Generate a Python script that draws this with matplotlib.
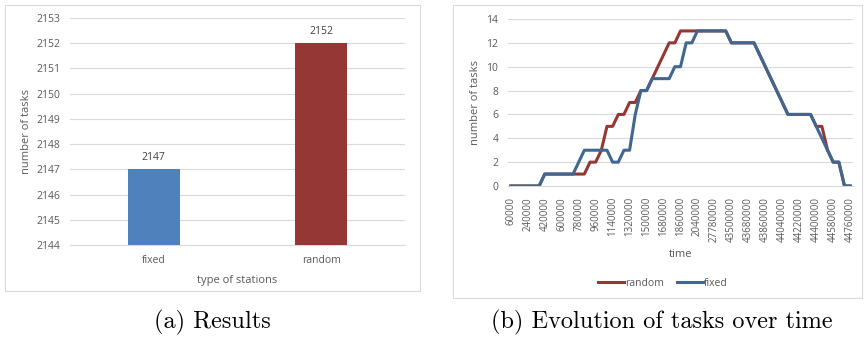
import matplotlib
matplotlib.use("Agg")
import matplotlib.pyplot as plt
from matplotlib.patches import Rectangle

plt.rcParams["font.family"] = ["Open Sans", "DejaVu Sans"]

# (a) results
station_types = ["fixed", "random"]
task_counts = [2147, 2152]
bar_colors = ["#4F81BD", "#953735"]

# (b) evolution of tasks over time
times = [
    60000, 120000, 180000, 240000, 300000, 360000, 420000, 480000, 540000,
    600000, 660000, 720000, 780000, 840000, 900000, 960000, 1020000, 1080000,
    1140000, 1200000, 1260000, 1320000, 1380000, 1440000, 1500000, 1560000,
    1620000, 1680000, 1740000, 1800000, 1860000, 1920000, 1980000, 2040000,
    2100000, 2160000, 27780000, 27840000, 43440000, 43500000, 43560000,
    43620000, 43680000, 43740000, 43800000, 43860000, 43920000, 43980000,
    44040000, 44100000, 44160000, 44220000, 44280000, 44340000, 44400000,
    44460000, 44520000, 44580000, 44640000, 44700000, 44760000,
]
random_tasks = [
    0, 0, 0, 0, 0, 0, 1, 1, 1, 1, 1, 1, 1, 1, 2, 2, 3, 5, 5, 6, 6, 7, 7, 8,
    8, 9, 10, 11, 12, 12, 13, 13, 13, 13, 13, 13, 13, 13, 13, 12, 12, 12, 12,
    12, 11, 10, 9, 8, 7, 6, 6, 6, 6, 6, 5, 5, 3, 2, 2, 0, 0,
]
fixed_tasks = [
    0, 0, 0, 0, 0, 0, 1, 1, 1, 1, 1, 1, 2, 3, 3, 3, 3, 3, 2, 2, 3, 3, 6, 8,
    8, 9, 9, 9, 9, 10, 10, 12, 12, 13, 13, 13, 13, 13, 13, 12, 12, 12, 12,
    12, 11, 10, 9, 8, 7, 6, 6, 6, 6, 6, 5, 4, 3, 2, 2, 0, 0,
]

W, H = 866, 341
fig = plt.figure(figsize=(W / 100, H / 100), dpi=100)


def box(x0, y0, x1, y1):
    # pixel box (top-left origin) -> figure fraction rect
    return [x0 / W, 1 - y1 / H, (x1 - x0) / W, (y1 - y0) / H]


# panel frames
for (x0, y0, x1, y1) in [(5, 5, 420, 291), (453, 5, 862, 298)]:
    fig.patches.append(Rectangle((x0 / W, 1 - y1 / H), (x1 - x0) / W,
                                 (y1 - y0) / H, transform=fig.transFigure,
                                 fill=False, edgecolor="#D9D9D9", lw=0.8))

tick_color = "#595959"
grid_color = "#D9D9D9"

# ---- left: bar chart
ax1 = fig.add_axes(box(70, 18, 405, 245))
pos = range(len(station_types))
ax1.bar(pos, [v - 2144 for v in task_counts], bottom=2144, width=0.31,
        color=bar_colors, zorder=3)
for p, v in zip(pos, task_counts):
    ax1.text(p, v + 0.25, str(v), ha="center", va="bottom", fontsize=7.5,
             color="#404040")
ax1.set_xlim(-0.5, 1.5)
ax1.set_ylim(2144, 2153)
ax1.set_yticks(range(2144, 2154))
ax1.set_xticks(list(pos))
ax1.set_xticklabels(station_types)
ax1.grid(axis="y", color=grid_color, lw=0.8, zorder=0)
for s in ["top", "right", "left"]:
    ax1.spines[s].set_visible(False)
ax1.spines["bottom"].set_color(grid_color)
ax1.tick_params(length=0, labelsize=7.5, colors=tick_color, pad=7)
ax1.set_ylabel("number of tasks", fontsize=8, color=tick_color, labelpad=3)
ax1.set_xlabel("type of stations", fontsize=8, color=tick_color, labelpad=7)

# ---- right: line chart
ax2 = fig.add_axes(box(508, 19, 853, 186))
idx = range(len(times))
ax2.plot(idx, random_tasks, color="#953735", lw=2.2, label="random",
         zorder=3)
ax2.plot(idx, fixed_tasks, color="#3F6791", lw=2.2, label="fixed", zorder=4)
ax2.set_xlim(-0.5, len(times) - 0.5)
ax2.set_ylim(0, 14)
ax2.set_yticks(range(0, 15, 2))
ax2.set_xticks(list(idx)[::3])
ax2.set_xticklabels([str(t) for t in times[::3]], rotation=90)
ax2.grid(axis="y", color=grid_color, lw=0.8, zorder=0)
for s in ["top", "right", "left"]:
    ax2.spines[s].set_visible(False)
ax2.spines["bottom"].set_color(grid_color)
ax2.tick_params(axis="y", length=0, labelsize=7.5, colors=tick_color, pad=7)
ax2.tick_params(axis="x", length=0, labelsize=7, colors=tick_color, pad=8)
ax2.set_ylabel("number of tasks", fontsize=8, color=tick_color, labelpad=4)
ax2.set_xlabel("time", fontsize=8, color=tick_color, labelpad=5)
ax2.legend(loc="center", bbox_to_anchor=(663 / W, 1 - 283 / H),
           bbox_transform=fig.transFigure, ncol=2, frameon=False,
           fontsize=7.5, handlelength=2.5, handletextpad=0.1,
           columnspacing=1.2, labelcolor=tick_color)

# captions
fig.text(212 / W, 1 - 322 / H, "(a) Results", ha="center", va="center",
         fontsize=17.5, family="cmr10")
fig.text(662 / W, 1 - 322 / H, "(b) Evolution of tasks over time",
         ha="center", va="center", fontsize=17.5, family="cmr10")

fig.savefig("out.png", dpi=100)
